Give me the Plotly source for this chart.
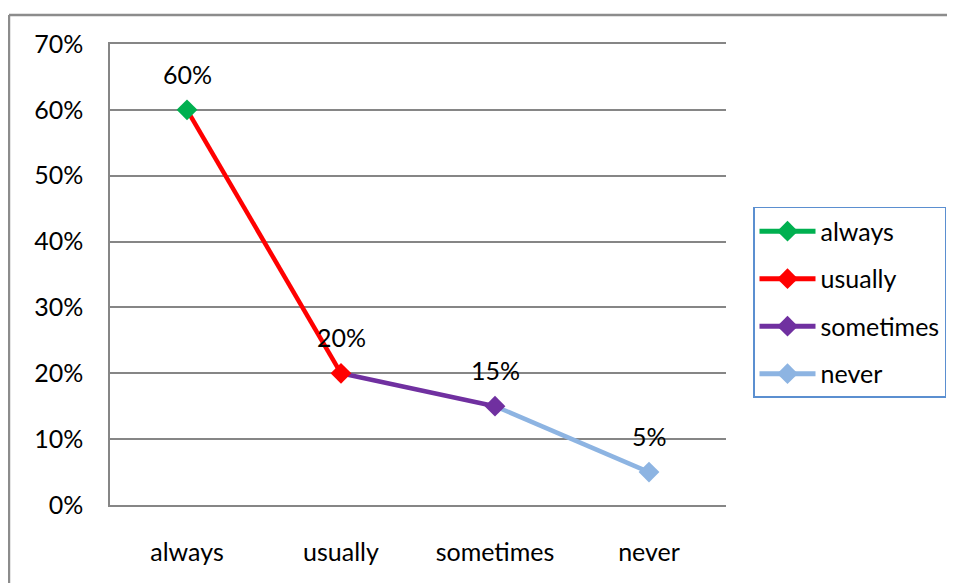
import plotly.graph_objects as go

categories = ["always", "usually", "sometimes", "never"]
values = [0.60, 0.20, 0.15, 0.05]
colors = ["#00B050", "#FF0000", "#7030A0", "#8DB4E2"]
label_texts = ["60%", "20%", "15%", "5%"]
y_ticks = [0, 0.1, 0.2, 0.3, 0.4, 0.5, 0.6, 0.7]
y_tick_labels = ["0%", "10%", "20%", "30%", "40%", "50%", "60%", "70%"]

FONT = "Lato, Carlito, Calibri, sans-serif"
FS = 25
GRID = "#868686"

fig = go.Figure()

# line segments coloured by the point they lead into
for i in range(1, len(categories)):
    fig.add_trace(go.Scatter(
        x=[categories[i - 1], categories[i]],
        y=[values[i - 1], values[i]],
        mode="lines",
        line=dict(color=colors[i], width=4.5),
        showlegend=False,
        hoverinfo="skip",
    ))

# markers (and legend entries)
for i, cat in enumerate(categories):
    fig.add_trace(go.Scatter(
        x=[cat], y=[values[i]],
        mode="lines+markers",
        name=cat,
        legendgroup=cat,
        line=dict(color=colors[i], width=5),
        marker=dict(symbol="diamond", size=16, color=colors[i]),
    ))

for i, cat in enumerate(categories):
    fig.add_annotation(
        x=cat, y=values[i], text=label_texts[i],
        showarrow=False, yshift=36, yanchor="middle",
        font=dict(family=FONT, size=FS, color="#000000"),
    )

# outer chart-area border (partially visible)
fig.add_shape(type="line", xref="paper", yref="paper",
              x0=-0.164, x1=1.45, y0=1.063, y1=1.063,
              line=dict(color="#8C8C8C", width=2.5))
fig.add_shape(type="line", xref="paper", yref="paper",
              x0=-0.164, x1=-0.164, y0=1.063, y1=-0.3,
              line=dict(color="#8C8C8C", width=2.5))

fig.update_layout(
    width=947, height=575,
    margin=dict(l=102, r=229, t=36, b=78),
    paper_bgcolor="white", plot_bgcolor="white",
    font=dict(family=FONT, size=FS, color="#000000"),
    xaxis=dict(
        type="category", categoryorder="array", categoryarray=categories,
        showgrid=False, showline=True, mirror=True,
        linecolor=GRID, linewidth=1.5, ticks="", zeroline=False,
        range=[-0.5, len(categories) - 0.5],
        ticklabelstandoff=24,
        tickfont=dict(family=FONT, size=FS),
    ),
    yaxis=dict(
        range=[0, 0.7], tickvals=y_ticks, ticktext=y_tick_labels,
        showgrid=True, gridcolor=GRID, gridwidth=1.5,
        showline=True, linecolor=GRID, linewidth=1.5,
        zeroline=False, ticks="", ticklabelstandoff=20,
        tickfont=dict(family=FONT, size=FS),
    ),
    legend=dict(
        xref="container", yref="container",
        x=0.7867, y=0.654, xanchor="left", yanchor="top",
        bordercolor="#5B8FD0", borderwidth=1.5,
        font=dict(family=FONT, size=FS),
        itemwidth=56, tracegroupgap=12,
        traceorder="grouped",
    ),
    showlegend=True,
)

fig.write_html("out.html")
